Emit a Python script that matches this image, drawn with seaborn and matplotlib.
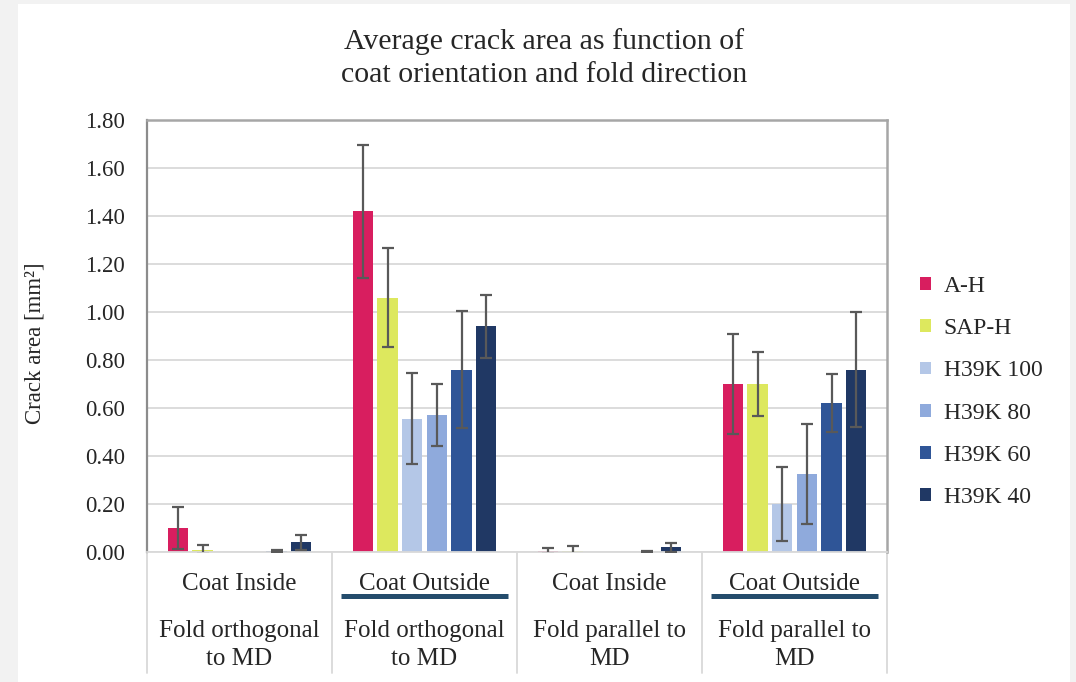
import numpy as np
import pandas as pd
import matplotlib
matplotlib.use("Agg")
import matplotlib.pyplot as plt
import matplotlib.transforms as mtransforms
from matplotlib.patches import Rectangle
import seaborn as sns

# ---------------- data ----------------
inner_labels = ["Coat Inside", "Coat Outside", "Coat Inside", "Coat Outside"]
outer_labels = ["Fold orthogonal\nto MD", "Fold orthogonal\nto MD",
                "Fold parallel to\nMD", "Fold parallel to\nMD"]
series = ["A-H", "SAP-H", "H39K 100", "H39K 80", "H39K 60", "H39K 40"]

vals_AH = [0.10, 1.42, 0.005, 0.70]
vals_SAPH = [0.01, 1.06, 0.004, 0.70]
vals_K100 = [0.0, 0.555, 0.0, 0.20]
vals_K80 = [0.0, 0.57, 0.0, 0.325]
vals_K60 = [0.003, 0.76, 0.002, 0.62]
vals_K40 = [0.04, 0.94, 0.02, 0.76]

err_AH = [0.087, 0.277, 0.012, 0.207]
err_SAPH = [0.02, 0.205, 0.02, 0.135]
err_K100 = [0.0, 0.19, 0.0, 0.155]
err_K80 = [0.0, 0.13, 0.0, 0.21]
err_K60 = [0.004, 0.245, 0.003, 0.12]
err_K40 = [0.03, 0.13, 0.018, 0.24]

colors = ["#D81E5F", "#DDE85E", "#B4C7E7", "#8FAADC", "#2F5597", "#203864"]

yticks = [0.0, 0.2, 0.4, 0.6, 0.8, 1.0, 1.2, 1.4, 1.6, 1.8]
title = "Average crack area as function of\ncoat orientation and fold direction"
ylabel = "Crack area [mm²]"

# ---------------- table ----------------
all_vals = [vals_AH, vals_SAPH, vals_K100, vals_K80, vals_K60, vals_K40]
all_errs = [err_AH, err_SAPH, err_K100, err_K80, err_K60, err_K40]
cat_keys = [f"{a}|{b}" for a, b in zip(inner_labels, outer_labels)]
rows = []
for s, vs, es in zip(series, all_vals, all_errs):
    for k, v, e in zip(cat_keys, vs, es):
        rows.append({"cat": k, "series": s, "value": v, "err": e})
df = pd.DataFrame(rows)

# ---------------- style ----------------
sns.set_style("white")
plt.rcParams["font.family"] = ["Liberation Serif", "DejaVu Serif"]
plt.rcParams["text.color"] = "#262626"

fig = plt.figure(figsize=(10.76, 6.82), dpi=100, facecolor="#F2F2F2")
fig.add_artist(Rectangle((18 / 1076, 0), (1070 - 18) / 1076, 678 / 682,
                         transform=fig.transFigure, facecolor="white",
                         edgecolor="none", zorder=-10))

ax = fig.add_axes([147 / 1076, 1 - 552 / 682, 740 / 1076, 432 / 682])
ax.set_facecolor("white")

sns.barplot(data=df, x="cat", y="value", hue="series", order=cat_keys,
            hue_order=series, palette=colors, width=0.8, gap=0.18,
            errorbar=None, saturation=1, linewidth=0, ax=ax, zorder=2)

# error bars, positioned from the drawn bars
for cont, s in zip(ax.containers, series):
    sub = df[df["series"] == s].set_index("cat")
    for bar in cont:
        xc = bar.get_x() + bar.get_width() / 2
        idx = int(round(xc))
        key = cat_keys[idx]
        e = sub.loc[key, "err"]
        if e > 0:
            ax.errorbar(xc, bar.get_height(), yerr=e, fmt="none",
                        ecolor="#595959", elinewidth=1.6, capsize=4,
                        capthick=1.6, zorder=4)

leg_handles, leg_labels = ax.get_legend_handles_labels()
if ax.get_legend() is not None:
    ax.get_legend().remove()

ax.set_ylim(0, 1.8)
ax.set_xlim(-0.5, len(cat_keys) - 0.5)
ax.set_yticks(yticks)
ax.set_yticklabels([f"{t:.2f}" for t in yticks], fontsize=16.5, color="#262626")
ax.tick_params(axis="y", length=0, pad=16)
ax.set_xticks([])
ax.set_xlabel("")
ax.set_ylabel("")
ax.yaxis.grid(True, color="#D9D9D9", linewidth=1.3, zorder=0)
ax.set_axisbelow(True)

for side in ["top", "right"]:
    ax.spines[side].set_visible(True)
    ax.spines[side].set_color("#A6A6A6")
    ax.spines[side].set_linewidth(1.8)
ax.spines["left"].set_color("#8C8C8C")
ax.spines["left"].set_linewidth(1.6)
ax.spines["bottom"].set_color("#D9D9D9")
ax.spines["bottom"].set_linewidth(1.3)

# category axis decoration
trans = mtransforms.blended_transform_factory(ax.transData, ax.transAxes)
for b in np.arange(-0.5, len(cat_keys), 1.0):
    ax.plot([b, b], [0, -0.28], transform=trans, color="#D9D9D9",
            lw=1.3, clip_on=False, zorder=1)
for i, (inn, out) in enumerate(zip(inner_labels, outer_labels)):
    ax.text(i, -0.075, inn, transform=trans, ha="center", va="center",
            fontsize=18, color="#262626")
    ax.text(i, -0.215, out, transform=trans, ha="center", va="center",
            fontsize=18, color="#262626", linespacing=1.38)
    if inn == "Coat Outside":
        ax.plot([i - 0.45, i + 0.45], [-0.103, -0.103], transform=trans,
                color="#244C6C", lw=3.6, clip_on=False, solid_capstyle="butt")

fig.text(544 / 1076, 1 - 58 / 682, title, ha="center", va="center",
         fontsize=21.5, linespacing=1.33, color="#262626")
fig.text(35 / 1076, 1 - 343 / 682, ylabel, rotation=90, ha="center",
         va="center", fontsize=16.5, color="#262626")

fig.legend(leg_handles, leg_labels, loc="upper left",
           bbox_to_anchor=(920 / 1076, 1 - 276 / 682), frameon=False,
           fontsize=17, handlelength=0.45, handleheight=0.45,
           handletextpad=0.55, labelspacing=0.9, borderaxespad=0,
           borderpad=0)

fig.savefig("out.png", dpi=100, facecolor=fig.get_facecolor())
